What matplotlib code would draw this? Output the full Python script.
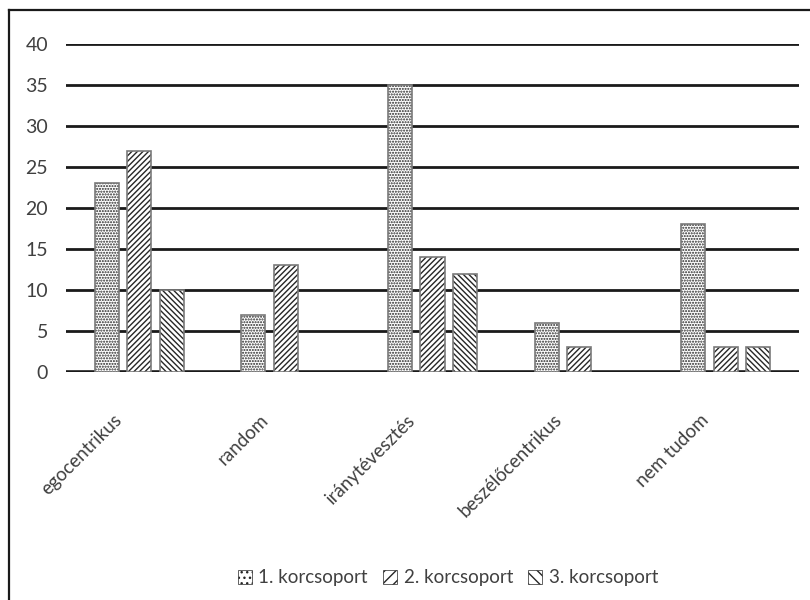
import matplotlib.pyplot as plt
import numpy as np
from matplotlib.lines import Line2D
from matplotlib.patches import Patch
from matplotlib.transforms import ScaledTranslation

CATEGORIES = ["egocentrikus", "random", "iránytévesztés", "beszélőcentrikus", "nem tudom"]
SERIES = ["1. korcsoport", "2. korcsoport", "3. korcsoport"]
GROUP_1 = [23, 7, 35, 6, 18]
GROUP_2 = [27, 13, 14, 3, 3]
GROUP_3 = [10, 0, 12, 0, 3]
Y_TICKS = [0, 5, 10, 15, 20, 25, 30, 35, 40]

HATCHES = ["......", "//////", "\\\\\\\\\\\\"]
TEXT_COLOR = "#404040"
HATCH_COLOR = "#262626"
EDGE_COLOR = "#7a7a7a"

plt.rcParams["font.family"] = ["Lato", "DejaVu Sans"]
plt.rcParams["hatch.linewidth"] = 1.0

fig = plt.figure(figsize=(8.1, 6.0), dpi=100)
ax = fig.add_axes([0.0815, 0.38, 0.905, 0.5467])

x = np.arange(len(CATEGORIES))
width = 0.165
step = 0.222
values = [GROUP_1, GROUP_2, GROUP_3]

handles = []
for i, (vals, hatch, name) in enumerate(zip(values, HATCHES, SERIES)):
    pos = x + (i - 1) * step
    shown = [v if v > 0 else np.nan for v in vals]
    ax.bar(pos, shown, width, color="white", hatch=hatch,
           edgecolor=HATCH_COLOR, linewidth=0, zorder=3)
    ax.bar(pos, shown, width, fill=False, edgecolor=EDGE_COLOR,
           linewidth=1.2, zorder=4)
    handles.append(Patch(facecolor="white", hatch=hatch[:3],
                         edgecolor=HATCH_COLOR, linewidth=0.5, label=name))

# horizontal grid lines, drawn under the bars
for y in Y_TICKS:
    ax.axhline(y, color="#1a1a1a", linewidth=2.0 if y else 2.6, zorder=1)

ax.set_xlim(-0.5, len(CATEGORIES) - 0.5)
ax.set_ylim(0, 40)
ax.set_yticks(Y_TICKS)
ax.set_xticks(x)
ax.set_xticklabels(CATEGORIES, rotation=45, ha="right", rotation_mode="anchor")
ax.tick_params(axis="y", length=0, labelsize=14, colors=TEXT_COLOR, pad=13)
ax.tick_params(axis="x", length=0, labelsize=13.5, colors=TEXT_COLOR, pad=28)

# category labels sit a little left of the group centre
shift = ScaledTranslation(-0.26, 0, fig.dpi_scale_trans)
for label in ax.get_xticklabels():
    label.set_transform(label.get_transform() + shift)

for spine in ax.spines.values():
    spine.set_visible(False)

fig.legend(handles=handles, loc="center", bbox_to_anchor=(0.553, 0.037),
           ncol=3, frameon=False, fontsize=13.5, handlelength=0.75,
           handleheight=0.75, handletextpad=0.35, columnspacing=0.8,
           labelcolor=TEXT_COLOR)

# outer chart frame
fig.add_artist(Line2D([9 / 810, 9 / 810], [0, 1 - 10 / 600],
                      transform=fig.transFigure, color="#1a1a1a", linewidth=1.6))
fig.add_artist(Line2D([9 / 810, 1], [1 - 10 / 600, 1 - 10 / 600],
                      transform=fig.transFigure, color="#1a1a1a", linewidth=1.6))

fig.savefig("out.png", dpi=100, facecolor="white")
